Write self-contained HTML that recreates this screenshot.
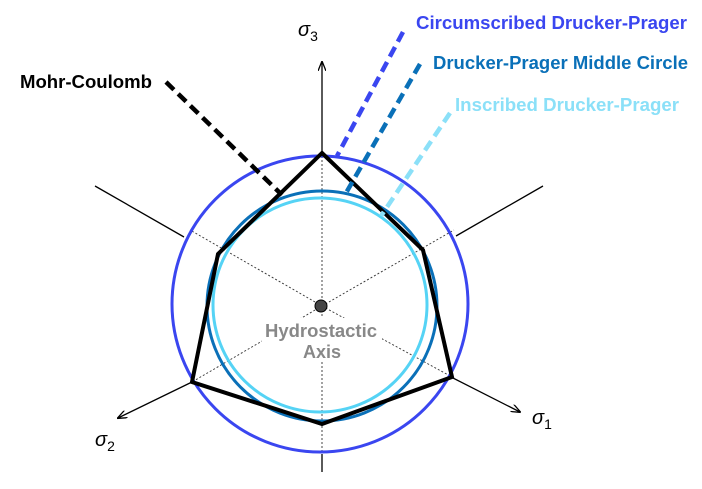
<!DOCTYPE html>
<html><head><style>body{margin:0;background:#fff}svg{display:block}text{font-family:"Liberation Sans",sans-serif}</style></head><body>
<svg width="702" height="489" viewBox="0 0 702 489">
<defs><marker id="a" markerWidth="10" markerHeight="8" refX="9" refY="4" orient="auto" markerUnits="userSpaceOnUse"><path d="M0,0 L10,4 L0,8" fill="none" stroke="#000" stroke-width="1.3"/></marker></defs>
<g stroke="#000" stroke-width="1.3" fill="none">
<line x1="322" y1="153" x2="322" y2="62" marker-end="url(#a)"/>
<line x1="451" y1="377" x2="520" y2="412" marker-end="url(#a)"/>
<line x1="192" y1="382" x2="118" y2="418" marker-end="url(#a)"/>
<line x1="95" y1="186" x2="184" y2="237"/>
<line x1="543" y1="186" x2="456" y2="236"/>
<line x1="322" y1="454" x2="322" y2="472"/>
</g>
<g stroke="#333" stroke-width="0.9" stroke-dasharray="2 2" fill="none">
<line x1="322" y1="306" x2="322" y2="153"/>
<line x1="322" y1="306" x2="322" y2="454"/>
<line x1="322" y1="306" x2="190" y2="230"/>
<line x1="322" y1="306" x2="454" y2="230"/>
<line x1="322" y1="306" x2="452" y2="377"/>
<line x1="322" y1="306" x2="192" y2="382"/>
</g>
<circle cx="320" cy="304" r="148" fill="none" stroke="#3a46f0" stroke-width="3"/>
<circle cx="322" cy="306" r="115" fill="none" stroke="#0a70b8" stroke-width="3"/>
<circle cx="320" cy="305" r="107" fill="none" stroke="#55d3f5" stroke-width="3"/>
<polygon points="322,153 423,250 452,377 322,424 192,382 218,254" fill="none" stroke="#000" stroke-width="4" stroke-linejoin="miter"/>
<g stroke-width="4.5" stroke-dasharray="11 6" fill="none">
<line x1="166" y1="82" x2="282" y2="195" stroke="#000"/>
<line x1="403" y1="32" x2="337" y2="156" stroke="#3a46f0"/>
<line x1="420" y1="64" x2="346" y2="193" stroke="#0a70b8"/>
<line x1="450" y1="113" x2="381" y2="216" stroke="#8be0f8"/>
</g>
<rect x="262" y="318" width="120" height="44" fill="#fff"/>
<circle cx="321" cy="306" r="6" fill="#444" stroke="#000" stroke-width="1"/>
<g font-weight="bold" font-size="18" lengthAdjust="spacingAndGlyphs">
<text x="416" y="29" fill="#3a46f0" textLength="271" lengthAdjust="spacingAndGlyphs">Circumscribed Drucker-Prager</text>
<text x="433" y="69" fill="#0a70b8" textLength="255" lengthAdjust="spacingAndGlyphs">Drucker-Prager Middle Circle</text>
<text x="455" y="111" fill="#8be0f8" textLength="224" lengthAdjust="spacingAndGlyphs">Inscribed Drucker-Prager</text>
<text x="20" y="88" fill="#000" textLength="132" lengthAdjust="spacingAndGlyphs">Mohr-Coulomb</text>
<text x="265" y="337" fill="#888" textLength="112" lengthAdjust="spacingAndGlyphs">Hydrostactic</text>
<text x="322" y="358" fill="#888" text-anchor="middle">Axis</text>
</g>
<g font-family="Liberation Serif" font-style="italic" font-size="20">
<text x="298" y="36">σ<tspan font-size="14" font-style="normal" dy="5">3</tspan></text>
<text x="532" y="424">σ<tspan font-size="14" font-style="normal" dy="5">1</tspan></text>
<text x="95" y="446">σ<tspan font-size="14" font-style="normal" dy="5">2</tspan></text>
</g>
</svg>
</body></html>
